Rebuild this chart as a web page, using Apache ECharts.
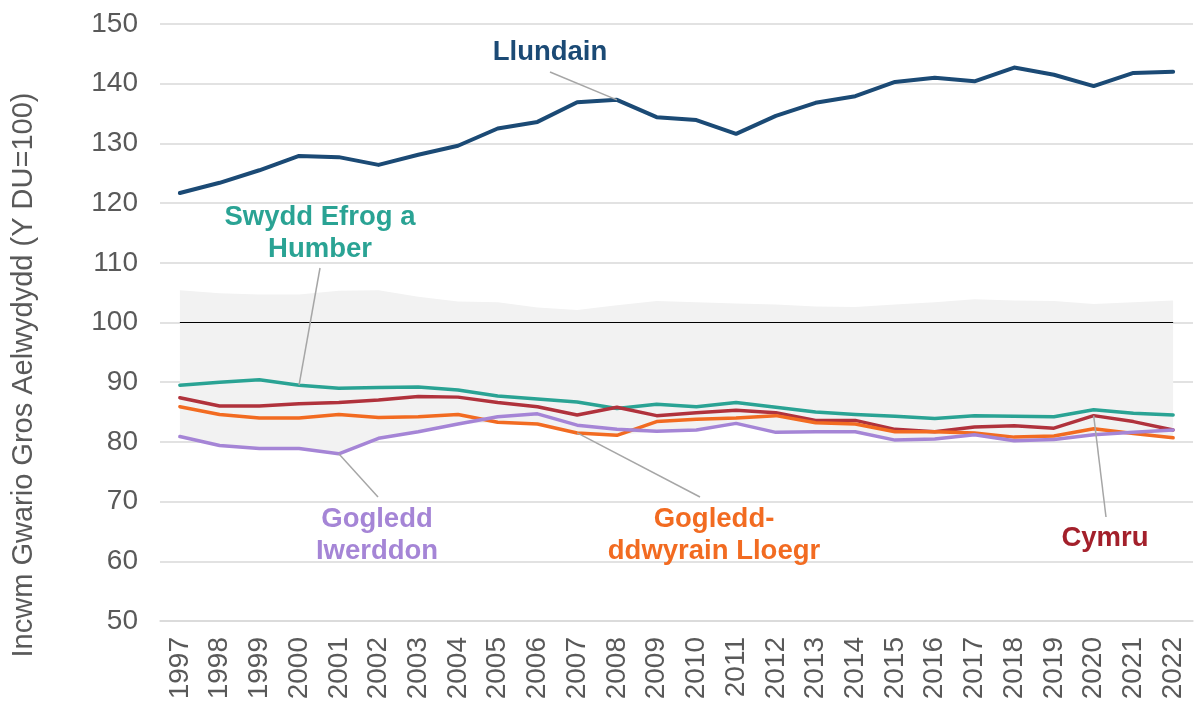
<!DOCTYPE html>
<html>
<head>
<meta charset="utf-8">
<script src="https://cdn.jsdelivr.net/npm/echarts@6/dist/echarts.min.js"></script>
<style>
  html, body { margin: 0; padding: 0; background: #fff; }
  #chart { width: 1196px; height: 704px; }
</style>
</head>
<body>
<div id="chart"></div>
<script>
const years = ['1997', '1998', '1999', '2000', '2001', '2002', '2003', '2004', '2005', '2006', '2007', '2008', '2009',
  '2010', '2011', '2012', '2013', '2014', '2015', '2016', '2017', '2018', '2019', '2020', '2021', '2022']

const llundain = [121.7, 123.4, 125.5, 127.9, 127.7, 126.4, 128.1, 129.6, 132.5, 133.6, 136.9, 137.3, 134.4,
  133.9, 131.6, 134.6, 136.8, 137.9, 140.3, 141.0, 140.4, 142.7, 141.5, 139.6, 141.8, 142.0]
const swyddEfrog = [89.5, 90.0, 90.4, 89.5, 89.0, 89.1, 89.2, 88.7, 87.7, 87.2, 86.7, 85.6, 86.3,
  85.9, 86.6, 85.8, 85.0, 84.6, 84.3, 83.9, 84.4, 84.3, 84.2, 85.4, 84.8, 84.5]
const cymru = [87.4, 86.0, 86.0, 86.4, 86.6, 87.0, 87.6, 87.5, 86.6, 85.9, 84.5, 85.8, 84.4,
  84.9, 85.3, 84.9, 83.6, 83.6, 82.1, 81.7, 82.5, 82.7, 82.3, 84.4, 83.4, 82.0]
const gogleddDdwyrain = [85.9, 84.6, 84.0, 84.0, 84.6, 84.1, 84.2, 84.6, 83.3, 83.0, 81.5, 81.1, 83.4,
  83.8, 84.0, 84.4, 83.2, 83.0, 81.7, 81.7, 81.5, 80.8, 81.0, 82.2, 81.4, 80.7]
const gogleddIwerddon = [80.9, 79.4, 78.9, 78.9, 78.0, 80.6, 81.7, 83.0, 84.2, 84.7, 82.8, 82.1, 81.8,
  82.0, 83.1, 81.6, 81.7, 81.7, 80.3, 80.5, 81.2, 80.2, 80.4, 81.2, 81.6, 82.0]
const ukBaseline = [100, 100, 100, 100, 100, 100, 100, 100, 100, 100, 100, 100, 100,
  100, 100, 100, 100, 100, 100, 100, 100, 100, 100, 100, 100, 100]

// range of the regions (grey band)
const bandLow = [80.9, 79.4, 78.9, 78.9, 78.0, 80.6, 81.7, 83.0, 83.3, 83.0, 81.5, 81.1, 81.8,
  82.0, 83.1, 81.6, 81.7, 81.7, 80.3, 80.5, 81.2, 80.2, 80.4, 81.2, 81.4, 80.7]
const bandHigh = [105.4, 104.9, 104.7, 104.7, 105.3, 105.4, 104.3, 103.5, 103.4, 102.5, 102.1, 102.9, 103.6,
  103.4, 103.2, 103.0, 102.7, 102.6, 103.0, 103.4, 103.9, 103.7, 103.6, 103.1, 103.4, 103.7]

const yMin = 50
const yMax = 150
const yStep = 10

const font = '"Liberation Sans", Arial, sans-serif'
const axisGrey = '#595959'

const lines = [
  { name: 'Swydd Efrog a Humber', data: swyddEfrog, color: '#2aa394', width: 3.5 },
  { name: 'Cymru', data: cymru, color: '#b0323c', width: 3.5 },
  { name: 'Gogledd-ddwyrain Lloegr', data: gogleddDdwyrain, color: '#f26b21', width: 3.5 },
  { name: 'Gogledd Iwerddon', data: gogleddIwerddon, color: '#a585d6', width: 3.5 },
  { name: 'Llundain', data: llundain, color: '#1b4a75', width: 4 }
]

// annotation labels: which line/year the leader points at, where the text sits
const notes = [
  { text: 'Llundain', color: '#1b4a75', data: llundain, year: '2008', x: 550, y: 52, end: [550, 72] },
  { text: 'Swydd Efrog a\nHumber', color: '#2aa394', data: swyddEfrog, year: '2000', x: 320, y: 233, end: [320, 268] },
  { text: 'Gogledd\nIwerddon', color: '#a585d6', data: gogleddIwerddon, year: '2001', x: 377, y: 535, end: [378, 497] },
  { text: 'Gogledd-\nddwyrain Lloegr', color: '#f26b21', data: gogleddDdwyrain, year: '2007', x: 714, y: 535, end: [700, 497] },
  { text: 'Cymru', color: '#a3202b', data: cymru, year: '2020', x: 1105, y: 538, end: [1106, 517] }
]

const series = [
  {
    name: 'bandBase',
    type: 'line',
    stack: 'band',
    data: bandLow,
    symbol: 'none',
    lineStyle: { opacity: 0 },
    silent: true,
    z: 1
  },
  {
    name: 'band',
    type: 'line',
    stack: 'band',
    data: bandHigh.map((v, i) => +(v - bandLow[i]).toFixed(2)),
    symbol: 'none',
    lineStyle: { opacity: 0 },
    areaStyle: { color: '#f2f2f2', opacity: 1 },
    silent: true,
    z: 1
  },
  {
    name: 'Y DU',
    type: 'line',
    data: ukBaseline,
    symbol: 'none',
    lineStyle: { color: '#000', width: 1.2 },
    z: 2
  }
]
lines.forEach(l => {
  series.push({
    name: l.name,
    type: 'line',
    data: l.data,
    symbol: 'none',
    lineStyle: { color: l.color, width: l.width, cap: 'round', join: 'round' },
    z: 3
  })
})

const chart = echarts.init(document.getElementById('chart'))
chart.setOption({
  animation: false,
  grid: { left: 160, right: 3, top: 24, bottom: 83 },
  xAxis: {
    type: 'category',
    data: years,
    boundaryGap: true,
    axisLine: { show: true, lineStyle: { color: '#d9d9d9', width: 1.5 } },
    axisTick: { show: false },
    axisLabel: { rotate: 90, fontSize: 28, color: axisGrey, fontFamily: font, margin: 16, interval: 0 }
  },
  yAxis: {
    type: 'value',
    min: yMin,
    max: yMax,
    interval: yStep,
    axisLine: { show: false },
    axisTick: { show: false },
    axisLabel: { fontSize: 28, color: axisGrey, fontFamily: font, margin: 22 },
    splitLine: { lineStyle: { color: '#d9d9d9', width: 1.5 } }
  },
  series
})

// leader lines + labels, anchored to the data points
const graphic = [{
  type: 'text',
  x: 24,
  y: 375,
  rotation: Math.PI / 2,
  style: {
    text: 'Incwm Gwario Gros Aelwydydd (Y DU=100)',
    fill: axisGrey,
    font: '29px ' + font,
    align: 'center',
    verticalAlign: 'middle'
  }
}]
notes.forEach(n => {
  const idx = years.indexOf(n.year)
  const p = chart.convertToPixel({ gridIndex: 0 }, [idx, n.data[idx]])
  graphic.push({
    type: 'line',
    shape: { x1: p[0], y1: p[1], x2: n.end[0], y2: n.end[1] },
    style: { stroke: '#a6a6a6', lineWidth: 1.5 },
    z: 10
  })
  graphic.push({
    type: 'text',
    x: n.x,
    y: n.y,
    style: {
      text: n.text,
      fill: n.color,
      font: 'bold 27.5px ' + font,
      lineHeight: 32,
      align: 'center',
      verticalAlign: 'middle'
    },
    z: 10
  })
})
chart.setOption({ graphic })
</script>
</body>
</html>
